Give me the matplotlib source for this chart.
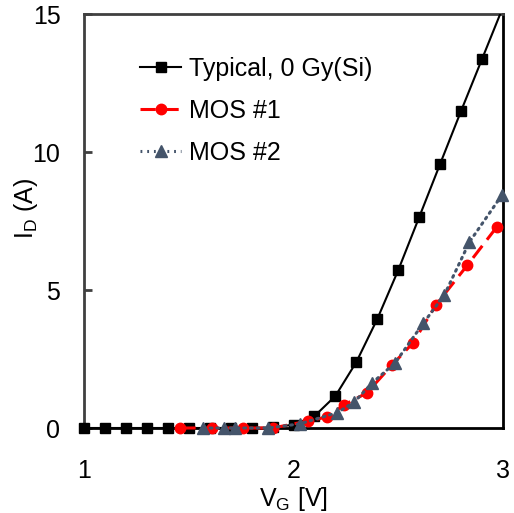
import matplotlib
matplotlib.use("Agg")
import matplotlib.pyplot as plt
from matplotlib.lines import Line2D

plt.rcParams['font.family'] = ['Liberation Sans', 'DejaVu Sans']

typ_x = [1.0, 1.1, 1.2, 1.3, 1.4, 1.5, 1.6, 1.7, 1.8, 1.9, 2.0, 2.1, 2.2, 2.3, 2.4, 2.5, 2.6, 2.7, 2.8, 2.9, 3.0]
typ_y = [0, 0, 0, 0, 0, 0, 0, 0, 0, 0.02, 0.12, 0.43, 1.16, 2.39, 3.95, 5.72, 7.64, 9.57, 11.49, 13.37, 15.25]

mos1_x = [1.46, 1.61, 1.76, 1.90, 2.07, 2.16, 2.24, 2.35, 2.47, 2.57, 2.68, 2.83, 2.97]
mos1_y = [0, 0, 0, 0, 0.25, 0.4, 0.83, 1.27, 2.28, 3.08, 4.46, 5.90, 7.28]

mos2_x = [1.57, 1.67, 1.72, 1.88, 2.03, 2.21, 2.29, 2.375, 2.485, 2.62, 2.72, 2.84, 2.995]
mos2_y = [0, 0, 0, 0, 0.15, 0.56, 0.94, 1.63, 2.36, 3.80, 4.82, 6.74, 8.44]

labels = ["Typical, 0 Gy(Si)", "MOS #1", "MOS #2"]
x_ticks = [1, 2, 3]
y_ticks = [0, 5, 10, 15]

RED = "#FF0000"
SLATE = "#44546A"
FS = 18

fig = plt.figure(figsize=(5.14, 5.13), dpi=100)
ax = fig.add_axes([84/514, 1 - 428/513, (503 - 84)/514, (428 - 14)/513])

# Typical: line clipped, markers visible up to axes limit
ax.plot(typ_x, typ_y, color="black", lw=1.5, zorder=3)
inside = [(x, y) for x, y in zip(typ_x, typ_y) if y <= 15]
ax.plot([p[0] for p in inside], [p[1] for p in inside], ls="none", marker="s",
        ms=6.5, color="black", clip_on=False, zorder=4)

ax.plot(mos1_x, mos1_y, color=RED, lw=2.2, ls=(0, (5, 2.5)), marker="o", ms=7.5,
        clip_on=False, zorder=5)
ax.plot(mos2_x, mos2_y, color=SLATE, lw=2.2, ls=(0, (0.6, 1.6)), dash_capstyle="round",
        marker="^", ms=9, clip_on=False, zorder=6)

ax.set_xlim(1, 3)
ax.set_ylim(0, 15)
ax.set_xticks(x_ticks)
ax.set_yticks(y_ticks)
ax.set_xticklabels([str(v) for v in x_ticks])
ax.set_yticklabels([str(v) for v in y_ticks])
ax.tick_params(axis="x", length=0, pad=22, labelsize=FS)
ax.tick_params(axis="y", direction="in", length=6, width=2, color="#404040", pad=17, labelsize=FS)

for side in ["left", "top"]:
    ax.spines[side].set_color("#404040")
    ax.spines[side].set_linewidth(2)
for side in ["right", "bottom"]:
    ax.spines[side].set_color("black")
    ax.spines[side].set_linewidth(2)

ax.set_xlabel(r"V$_\mathregular{G}$ [V]", fontsize=FS, labelpad=2)
ax.set_ylabel(r"I$_\mathregular{D}$ (A)", fontsize=FS)
ax.yaxis.set_label_coords(-0.105, 0.53)

handles = [
    Line2D([], [], color="black", lw=1.5, marker="s", ms=6.5),
    Line2D([], [], color=RED, lw=2.2, ls=(0, (5, 2.5)), marker="o", ms=7.5),
    Line2D([], [], color=SLATE, lw=2.2, ls=(0, (0.6, 1.6)), marker="^", ms=9),
]
ax.legend(handles, labels, loc="upper left", bbox_to_anchor=(0.11, 0.92),
          frameon=False, fontsize=FS, handlelength=1.65, handletextpad=0.3,
          labelspacing=0.72, borderaxespad=0)

fig.savefig("out.png", dpi=100)
